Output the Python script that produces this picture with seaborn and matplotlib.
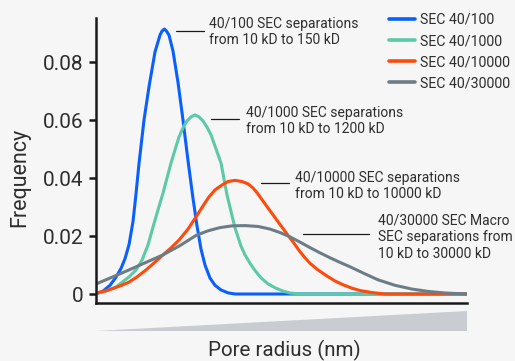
import matplotlib
matplotlib.use("Agg")
import matplotlib.pyplot as plt
from matplotlib.lines import Line2D
from matplotlib.patches import Polygon
import seaborn as sns
import pandas as pd

# pore radius (arbitrary units) and frequency
blue_x = [0, 0.7, 1.4, 2.0, 2.5, 2.9, 3.3, 3.7, 4.0, 4.3, 4.8, 5.3, 5.9, 6.4, 6.6, 6.83, 7.05, 7.3,
          7.7, 8.2, 8.7, 9.2, 9.7, 10.1, 10.5, 10.9, 11.4, 11.9, 12.5, 13.2, 13.9, 37.1]
blue_y = [0, 0.001, 0.003, 0.0058, 0.0088, 0.0122, 0.017, 0.025, 0.0345, 0.045, 0.06, 0.0715,
          0.0835, 0.0893, 0.0907, 0.0914, 0.0907, 0.0893, 0.0838, 0.073, 0.06, 0.046, 0.033,
          0.0235, 0.0155, 0.01, 0.0055, 0.003, 0.0014, 0.0004, 0, 0]

green_x = [0, 1.0, 2.0, 3.3, 4.0, 4.6, 5.2, 5.7, 6.2, 6.7, 7.5, 8.3, 8.8, 9.1, 9.5, 9.9, 10.3, 10.7,
           11.1, 11.5, 12.5, 13.1, 13.9, 14.5, 14.9, 15.4, 15.9, 16.5, 17.2, 18.0, 18.7, 19.4, 20.4, 37.1]
green_y = [0.00017, 0.001, 0.0024, 0.0059, 0.0083, 0.0117, 0.0169, 0.0231, 0.029, 0.0348, 0.0452,
           0.0542, 0.058, 0.0597, 0.0611, 0.0618, 0.0611, 0.0597, 0.0576, 0.0549, 0.0452, 0.0342,
           0.0228, 0.0165, 0.0135, 0.0106, 0.0081, 0.0056, 0.0035, 0.002, 0.001, 0.00035, 0, 0]

red_x = [0, 0.9, 1.7, 2.5, 3.3, 4.1, 5.0, 5.8, 6.7, 7.5, 8.3, 9.2, 10.0, 10.7, 11.3, 11.9, 12.6, 13.2,
         13.9, 14.6, 15.2, 15.7, 16.2, 16.9, 17.7, 18.4, 19.1, 19.8, 20.4, 20.9, 21.4, 22.2, 23.1, 23.9,
         24.7, 25.6, 26.4, 27.6, 28.9, 37.1]
red_y = [0.00035, 0.001, 0.0019, 0.0029, 0.0041, 0.0059, 0.0083, 0.0107, 0.0135, 0.0159, 0.0186,
         0.0224, 0.0266, 0.0304, 0.0335, 0.0359, 0.0376, 0.0388, 0.0392, 0.0388, 0.038, 0.0366,
         0.0345, 0.0311, 0.0273, 0.024, 0.0207, 0.0175, 0.0146, 0.0125, 0.0106, 0.0083, 0.0062,
         0.0045, 0.0032, 0.002, 0.0012, 0.0005, 0, 0]

gray_x = [0, 1.4, 3.3, 5.0, 6.7, 8.4, 10.0, 11.2, 12.4, 13.6, 14.9, 16.2, 17.4, 18.4, 19.4, 20.4,
          21.4, 22.4, 23.4, 24.4, 25.4, 26.8, 28.2, 29.9, 31.6, 33.2, 34.9, 37.1]
gray_y = [0.00345, 0.0055, 0.0083, 0.0109, 0.0135, 0.0167, 0.0202, 0.0218, 0.0229, 0.0235, 0.0236,
          0.0233, 0.0224, 0.0212, 0.0197, 0.0179, 0.016, 0.0142, 0.0125, 0.0109, 0.0094, 0.0071,
          0.0049, 0.003, 0.0017, 0.0009, 0.00035, 0]

series = ["SEC 40/100", "SEC 40/1000", "SEC 40/10000", "SEC 40/30000"]
colors = ["#0a5fff", "#5cc9a7", "#ff4a0a", "#6c7d88"]
yticks = [0, 0.02, 0.04, 0.06, 0.08]
ytick_labels = ["0", "0.02", "0.04", "0.06", "0.08"]

notes = [
    ["40/100 SEC separations", "from 10 kD to 150 kD"],
    ["40/1000 SEC separations", "from 10 kD to 1200 kD"],
    ["40/10000 SEC separations", "from 10 kD to 10000 kD"],
    ["40/30000 SEC Macro", "SEC separations from", "10 kD to 30000 kD"],
]

frames = []
for name, xs, ys in zip(series, [blue_x, green_x, red_x, gray_x], [blue_y, green_y, red_y, gray_y]):
    frames.append(pd.DataFrame({"radius": xs, "freq": ys, "column": name}))
df = pd.concat(frames, ignore_index=True)

sns.set_theme(style="white")
plt.rcParams["font.family"] = ["Roboto", "DejaVu Sans"]
bg = "#f6f6f6"
ink = "#2e2e2e"

W, H = 515, 361
fig = plt.figure(figsize=(W / 100, H / 100), dpi=100, facecolor=bg)
ax = fig.add_axes([96 / W, 1 - 302.7 / H, (467 - 96) / W, (302.7 - 18.3) / H])
ax.set_facecolor(bg)

sns.lineplot(data=df, x="radius", y="freq", hue="column", palette=colors, estimator=None,
             sort=False, linewidth=2.2, ax=ax, legend=False)

ax.set_xlim(0, 37.1)
ax.set_ylim(-0.0030, 0.0951)
ax.set_xticks([])
ax.set_yticks(yticks)
ax.set_yticklabels(ytick_labels)
ax.set_xlabel("")
ax.set_ylabel("")
sns.despine(ax=ax)
for s in ["left", "bottom"]:
    ax.spines[s].set_color("#1a1a1a")
    ax.spines[s].set_linewidth(1.8)
ax.tick_params(axis="y", length=4.8, width=1.8, color="#1a1a1a", pad=4.3,
               labelsize=15, labelcolor=ink, left=True)

# gradient-like wedge under the axis
wedge = Polygon([(0, -0.0995), (37.1, -0.0292), (37.1, -0.0995)], closed=True,
                transform=ax.get_xaxis_transform(), clip_on=False,
                facecolor="#c9cdd1", edgecolor="none")
ax.add_patch(wedge)

fig.text(284.7 / W, 1 - 356 / H, "Pore radius (nm)", ha="center", va="baseline",
         fontsize=14.8, color=ink)
fig.text(20 / W, 1 - 177 / H, "Frequency", ha="center", va="center", rotation=90,
         fontsize=15.5, color=ink)

handles = [Line2D([], [], color=c, linewidth=2.6) for c in colors]
ax.legend(handles, series, loc="upper left", bbox_to_anchor=(389.3 / W, 1 - 13 / H),
          bbox_transform=fig.transFigure, frameon=False, fontsize=10.2, handlelength=1.8,
          handletextpad=0.4, labelspacing=0.5, borderpad=0, borderaxespad=0, labelcolor=ink)

# annotations: (line x0, x1, y), text x, first baseline, line step
note_pos = [
    (176, 203.7, 30.7, 209, 28.3, 15.7),
    (211, 238.5, 119, 246, 117.3, 15.4),
    (260.7, 289, 183.3, 295, 181.7, 16.3),
    (303.3, 369.3, 234.3, 378.3, 224.3, 16.7),
]
for lines, (lx0, lx1, ly, tx, ty, step) in zip(notes, note_pos):
    fig.add_artist(Line2D([lx0 / W, lx1 / W], [1 - ly / H, 1 - ly / H], color="#1a1a1a",
                          linewidth=0.9, transform=fig.transFigure))
    for i, t in enumerate(lines):
        fig.text(tx / W, 1 - (ty + i * step) / H, t, ha="left", va="baseline",
                 fontsize=10, color=ink)

fig.savefig("out.png", dpi=100, facecolor=bg)
